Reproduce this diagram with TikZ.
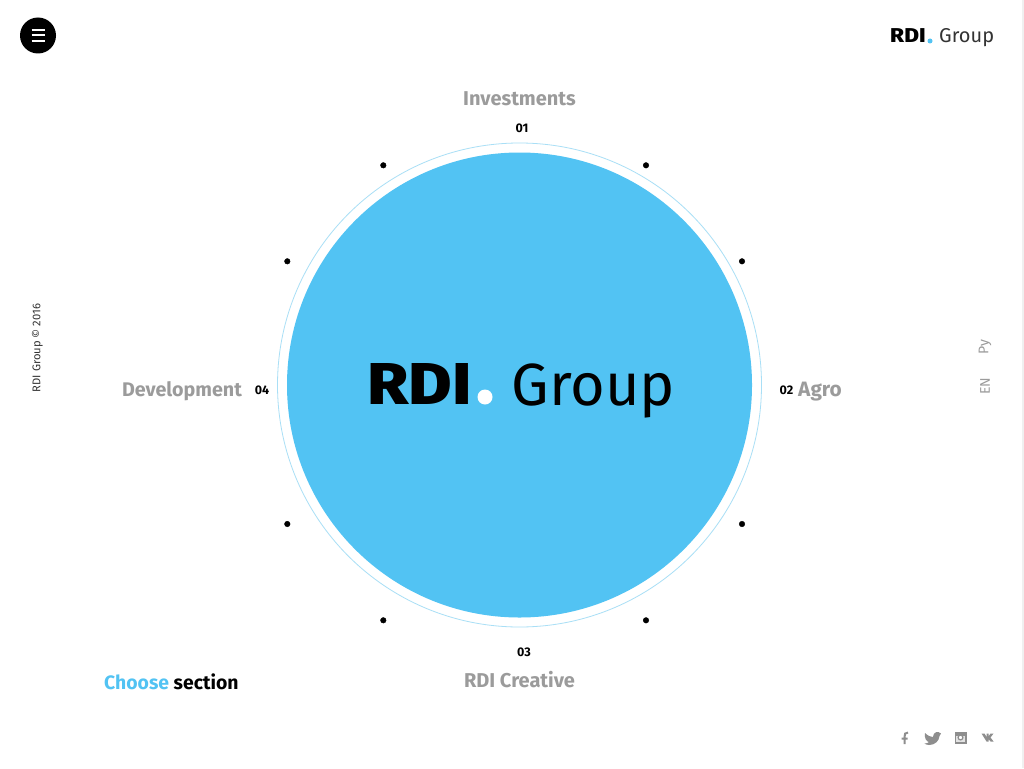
\documentclass[tikz,border=0pt]{standalone}
\usepackage{fontspec}
\setmainfont{Fira Sans}
\newfontfamily\heavyfont{Fira Sans ExtraBold}
\usetikzlibrary{positioning}
\definecolor{rdiblue}{HTML}{52C3F3}
\definecolor{rdigray}{HTML}{9B9B9B}
\definecolor{rdiring}{HTML}{A9DFF6}
\definecolor{rdiicon}{HTML}{8E8E8E}
\tikzset{
	section/.style = {text = rdigray, font = \fontsize{20}{20}\selectfont\bfseries, inner sep = 0pt},
	number/.style = {text = black, font = \fontsize{12.5}{12.5}\selectfont\bfseries, inner sep = 0pt},
	side/.style = {rotate = 90, inner sep = 0pt}
}
\begin{document}
\begin{tikzpicture}[x = 1pt, y = -1pt]
		\useasboundingbox (0,0) rectangle (1024,768);
		\fill[white] (0,0) rectangle (1024,768);
		\fill[black!6] (1022,0) rectangle (1024,768);
		\draw[rdiring, line width = 0.8pt] (519.5,385) circle (242pt);
		\fill[rdiblue] (519.5,385) circle (232.5pt);
		\filldraw (646,165.3) circle (2.8pt) (742,261.3) circle (2.8pt) (742,524) circle (2.8pt) (646,620.3) circle (2.8pt);
		\filldraw (383.3,620.3) circle (2.8pt) (287.3,524) circle (2.8pt) (287.3,261.3) circle (2.8pt) (383.3,165.3) circle (2.8pt);
		% big logo
		\node[anchor = base west, inner sep = 0pt, xscale = 1.13, font = \fontsize{59}{59}\selectfont\heavyfont] (bigrdi) at (367,404.5) {RDI};
		\fill[white] (485,397) circle (7.5pt);
		\node[anchor = base west, inner sep = 0pt, font = \fontsize{59.5}{59.5}\selectfont] (biggroup) at (511.5,405) {Group};
		% sections
		\node[section] (investments) at (519.5,99) {Investments};
		\node[number] (num1) at (522,128) {01};
		\node[number] (num2) at (786.5,390.5) {02};
		\node[section, font = \fontsize{20.8}{20.8}\selectfont\bfseries, right = 4.5pt of num2, yshift = -1pt] (agro) {Agro};
		\node[number] (num3) at (524,652.5) {03};
		\node[section] (creative) at (519.5,680) {RDI Creative};
		\node[number] (num4) at (262,390.5) {04};
		\node[section, font = \fontsize{19.7}{19.7}\selectfont\bfseries, left = 12.5pt of num4, yshift = -0.8pt] (development) {Development};
		\node[section, text = black, font = \fontsize{19.4}{19.4}\selectfont\bfseries, anchor = base west] (choose) at (104,689) {\textcolor{rdiblue}{Choose} section};
		% menu button
		\fill (38,35.5) circle (18pt);
		\draw[white, line width = 2pt] (31.5,30) -- (44.5,30) (31.5,35.5) -- (44.5,35.5) (31.5,41) -- (44.5,41);
		% corner logo
		\node[anchor = base west, inner sep = 0pt, xscale = 1.13, font = \fontsize{20}{20}\selectfont\heavyfont] (smallrdi) at (890,43) {RDI};
		\fill[rdiblue] (930,41) circle (2.5pt);
		\node[anchor = base west, inner sep = 0pt, font = \fontsize{20}{20}\selectfont, text = black!80] (smallgroup) at (939,43) {Group};
		% side texts
		\node[side, font = \fontsize{11.2}{11.2}\selectfont, text = black!80] (copyright) at (37.5,348) {RDI Group © 2016};
		\node[side, font = \fontsize{14}{14}\selectfont, text = rdigray] (lang1) at (985,347) {Ру};
		\node[side, font = \fontsize{14}{14}\selectfont, text = rdigray] (lang2) at (985,386) {EN};
		% icons
		\draw[rdiicon, line width = 2pt] (908,732.5) .. controls (905,732.5) and (904.5,734) .. (904.5,737) -- (904.5,744) (901.5,738.5) -- (907.5,738.5);
		\fill[rdiicon] (925,733) .. controls (928,736) and (931,737) .. (933,737) .. controls (933,732) and (938,730.5) .. (941,733.5) -- (939.5,736) .. controls (939,741) and (935,745) .. (929,745) .. controls (927,745) and (925,744) .. (924.5,743.5) .. controls (926.5,743.5) and (928,743) .. (929,742) .. controls (926.5,741.5) and (924,738) .. (925,733) -- cycle;
		\fill[rdiicon] (954.5,731.5) rectangle (966.5,743.5);
		\fill[white!75!rdiicon] (956.2,736) rectangle (964.8,741.8);
		\filldraw[fill = white, draw = rdiicon, line width = 1.2pt] (960.5,737.5) circle (2.4pt);
		\fill[rdiicon] (981.5,733.5) -- (984.5,733.5) -- (986.5,737) -- (986.5,733.5) -- (988.5,733.5) -- (988.5,736.5) -- (990.5,733.5) -- (993.5,733.5) -- (990.5,737.5) -- (993.5,741.5) -- (990.5,741.5) -- (988.5,739) -- (988.5,741.5) -- (986.5,741.5) -- cycle;
	\end{tikzpicture}
\end{document}
